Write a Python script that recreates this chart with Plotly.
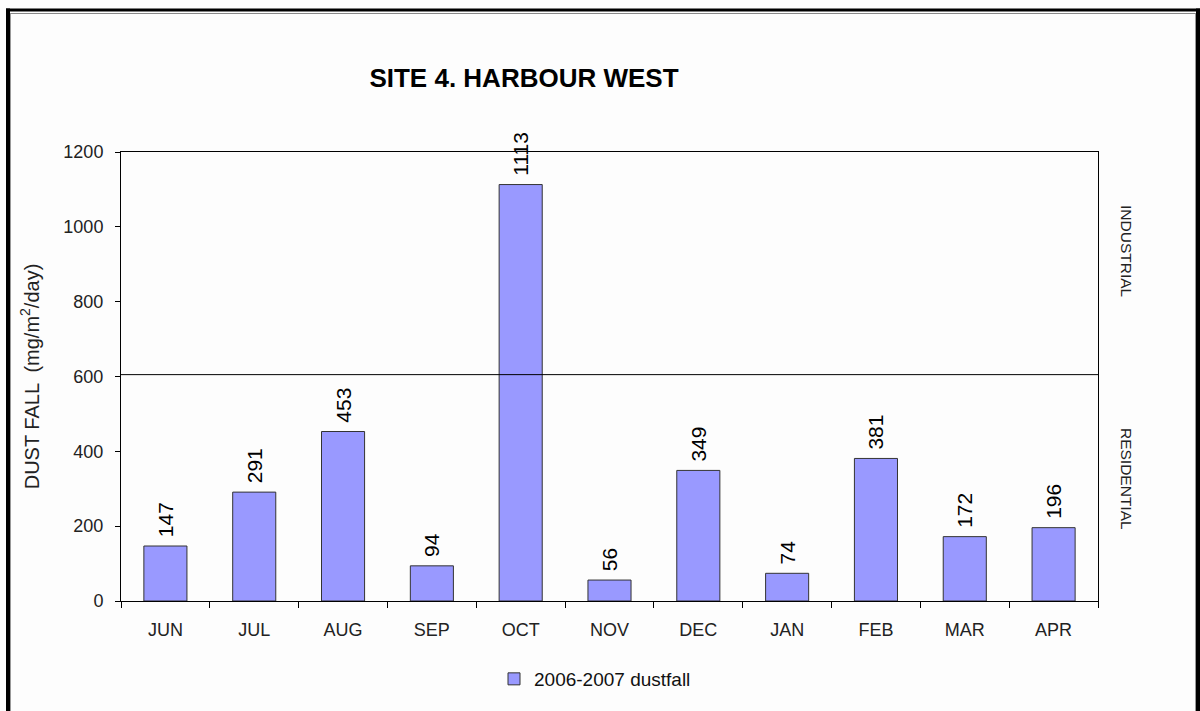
import plotly.graph_objects as go

months = ["JUN", "JUL", "AUG", "SEP", "OCT", "NOV", "DEC", "JAN", "FEB", "MAR", "APR"]
dustfall = [147, 291, 453, 94, 1113, 56, 349, 74, 381, 172, 196]
series_name = "2006-2007 dustfall"
threshold = 605
y_ticks = [0, 200, 400, 600, 800, 1000, 1200]

W, H = 1200, 711
L, R, T, B = 121, 1098, 152, 601
FONT = "Liberation Sans, Arial"

def px(x):
    return (x - L) / (R - L)

def py(y):
    return (B - y) / (B - T)

fig = go.Figure()
fig.add_trace(go.Bar(
    x=months, y=dustfall, name=series_name,
    marker=dict(color="#9999FF", line=dict(color="#333333", width=1)),
    text=["\u00a0" + str(v) for v in dustfall], textposition="outside", textangle=-90,
    textfont=dict(family=FONT, size=21, color="#000000"),
    constraintext="none", cliponaxis=False, showlegend=True,
))

shapes = [
    dict(type="line", xref="paper", yref="y", x0=0, x1=1, y0=threshold, y1=threshold,
         line=dict(color="#000000", width=1)),
    # outer frame
    dict(type="line", xref="paper", yref="paper", x0=px(6), x1=px(1200), y0=py(10), y1=py(10),
         line=dict(color="#000000", width=3)),
    dict(type="line", xref="paper", yref="paper", x0=px(8), x1=px(8), y0=py(8.5), y1=py(720),
         line=dict(color="#000000", width=4)),
    dict(type="line", xref="paper", yref="paper", x0=px(1198), x1=px(1198), y0=py(8.5), y1=py(720),
         line=dict(color="#000000", width=4)),
    dict(type="line", xref="paper", yref="paper", x0=px(10), x1=px(1196), y0=py(13.5), y1=py(13.5),
         line=dict(color="#888888", width=1)),
    dict(type="line", xref="paper", yref="paper", x0=px(10.5), x1=px(10.5), y0=py(13.5), y1=py(720),
         line=dict(color="#999999", width=1)),
    dict(type="line", xref="paper", yref="paper", x0=px(1195.5), x1=px(1195.5), y0=py(13.5), y1=py(720),
         line=dict(color="#999999", width=1)),
]

annotations = [
    dict(text="INDUSTRIAL", xref="paper", yref="paper", x=px(1127), y=py(251), showarrow=False,
         xanchor="center", yanchor="middle",
         textangle=90, font=dict(family=FONT, size=15.5, color="#222222")),
    dict(text="RESIDENTIAL", xref="paper", yref="paper", x=px(1127), y=py(479), showarrow=False,
         xanchor="center", yanchor="middle",
         textangle=90, font=dict(family=FONT, size=15.5, color="#222222")),
]

fig.update_layout(
    width=W, height=H,
    margin=dict(l=L, r=W - R, t=T, b=H - B, pad=0),
    paper_bgcolor="#fdfdfd", plot_bgcolor="#fdfdfd",
    title=dict(text="<b>SITE 4. HARBOUR WEST</b>", x=px(524), xref="paper", xanchor="center",
               y=1 - 78 / H, yanchor="middle",
               font=dict(family=FONT, size=26, color="#000000")),
    bargap=0.515,
    showlegend=True,
    legend=dict(orientation="h", x=px(494), xanchor="left", y=py(679), yanchor="middle",
                font=dict(family=FONT, size=19, color="#111111"),
                bgcolor="rgba(0,0,0,0)"),
    shapes=shapes, annotations=annotations,
    font=dict(family=FONT),
)
fig.update_xaxes(
    showline=True, linecolor="#000000", linewidth=1, mirror=True,
    ticks="outside", tickson="boundaries", ticklen=6, tickcolor="#000000",
    ticklabelstandoff=12,
    tickfont=dict(family=FONT, size=18, color="#222222"),
    showgrid=False, fixedrange=True,
)
fig.update_yaxes(
    range=[0, 1200], tickvals=y_ticks,
    showline=True, linecolor="#000000", linewidth=1, mirror=True,
    ticks="outside", ticklen=5, tickcolor="#000000",
    ticklabelstandoff=8,
    tickfont=dict(family=FONT, size=18, color="#222222"),
    showgrid=False, zeroline=False,
    title=dict(text="DUST FALL  (mg/m<sup>2</sup>/day)", standoff=18,
               font=dict(family=FONT, size=20, color="#222222")),
)

fig.write_html("out.html", config={"displayModeBar": False},
               post_script="document.body.style.margin='0';")
